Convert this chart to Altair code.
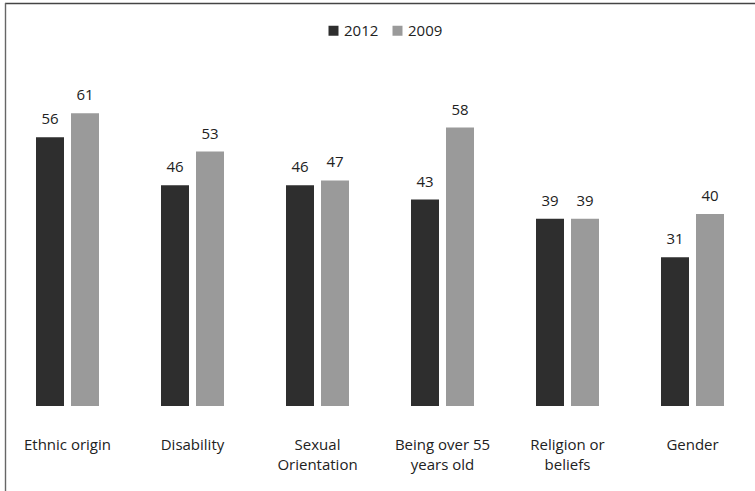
import json
import altair as alt
import pandas as pd

# Survey results: share of respondents per ground of discrimination
categories = [
    "Ethnic origin",
    "Disability",
    "Sexual Orientation",
    "Being over 55 years old",
    "Religion or beliefs",
    "Gender",
]
label_lines = [
    ["Ethnic origin"],
    ["Disability"],
    ["Sexual", "Orientation"],
    ["Being over 55", "years old"],
    ["Religion or", "beliefs"],
    ["Gender"],
]
years = ["2012", "2009"]
values_2012 = [56, 46, 46, 43, 39, 31]
values_2009 = [61, 53, 47, 58, 39, 40]
colors = ["#2e2e2e", "#9a9a9a"]

rows = []
for cat, v12, v09 in zip(categories, values_2012, values_2009):
    rows.append({"category": cat, "year": "2012", "value": v12})
    rows.append({"category": cat, "year": "2009", "value": v09})
df = pd.DataFrame(rows)

label_map = json.dumps(dict(zip(categories, label_lines)))
FONT = "Open Sans"

x_enc = alt.X(
    "category:N",
    sort=categories,
    scale=alt.Scale(paddingInner=0.496, paddingOuter=0.248),
    axis=alt.Axis(
        title=None,
        domain=False,
        ticks=False,
        labelAngle=0,
        labelPadding=31,
        labelFontSize=15,
        labelFont=FONT,
        labelColor="#222222",
        labelLineHeight=20,
        labelExpr=f"{label_map}[datum.label]",
    ),
)
xoff_enc = alt.XOffset(
    "year:N", sort=years, scale=alt.Scale(paddingInner=0.2, paddingOuter=0)
)
y_enc = alt.Y("value:Q", scale=alt.Scale(domain=[0, 70]), axis=None)

base = alt.Chart(df).encode(x=x_enc, xOffset=xoff_enc, y=y_enc)

bars = base.mark_bar().encode(
    color=alt.Color(
        "year:N",
        sort=years,
        scale=alt.Scale(domain=years, range=colors),
        legend=alt.Legend(
            title=None,
            orient="none",
            legendX=321,
            legendY=-47,
            direction="horizontal",
            padding=0,
            symbolType="square",
            symbolSize=100,
            symbolStrokeWidth=0,
            labelFont=FONT,
            labelFontSize=15,
            labelColor="#222222",
            labelOffset=3,
            columnPadding=11,
        ),
    )
)

labels = base.mark_text(
    baseline="alphabetic", dy=-13, font=FONT, fontSize=15, color="#222222"
).encode(text="value:Q")

# Frame lines along the top and left edges
frame_df = pd.DataFrame({"k": [0]})
top_line = alt.Chart(frame_df).mark_rule(color="#444444", strokeWidth=1.6).encode(
    x=alt.value(0), x2=alt.value(800), y=alt.value(-66.5), y2=alt.value(-66.5)
)
left_line = alt.Chart(frame_df).mark_rule(color="#666666", strokeWidth=1.4).encode(
    x=alt.value(0.5), x2=alt.value(0.5), y=alt.value(-67), y2=alt.value(500)
)

chart = (
    alt.layer(bars, labels, top_line, left_line)
    .properties(
        width=750,
        height=336,
        padding={"left": 5, "top": 70, "right": 0, "bottom": 85},
        autosize=alt.AutoSizeParams(type="none"),
        background="#ffffff",
    )
    .configure_view(stroke=None)
)

chart.save("out.html", embed_options={"renderer": "svg", "actions": False})
